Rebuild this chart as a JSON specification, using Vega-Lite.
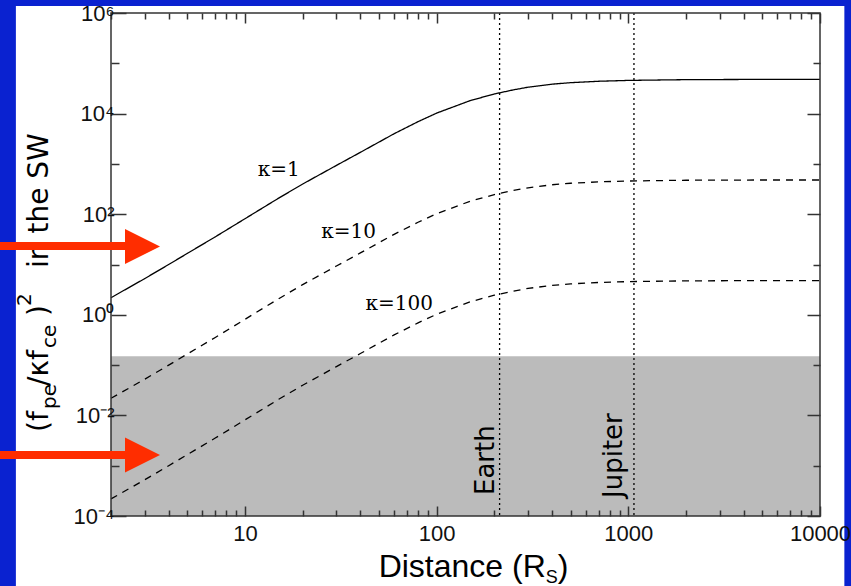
{
  "$schema": "https://vega.github.io/schema/vega-lite/v6.json",
  "width": 709,
  "height": 503,
  "autosize": {"type": "none"},
  "padding": {"left": 111, "top": 13, "right": 31, "bottom": 70},
  "background": "#0a22d0",
  "config": {
    "view": {"stroke": null},
    "axis": {"domain": false, "grid": false, "tickColor": "#333333", "tickWidth": 1.5, "labelFont": "Liberation Sans", "labelFontSize": 22, "labelColor": "#111111", "labelFlush": false, "labelOverlap": false}
  },
  "datasets": {
    "panel": [{"x1": 0.638, "x2": 13400, "y1": 0.0000021, "y2": 1380000}],
    "band": [{"x1": 2, "x2": 10000, "y1": 0.0001, "y2": 0.15}],
    "frame": [{"x1": 2, "x2": 10000, "y1": 0.0001, "y2": 1000000}],
    "curves": [
      {"k": "1", "r": 2, "v": 2.188}, {"k": "1", "r": 3, "v": 5.248}, {"k": "1", "r": 4, "v": 10}, {"k": "1", "r": 5, "v": 16.6}, {"k": "1", "r": 7, "v": 35.48}, {"k": "1", "r": 10, "v": 81.3}, {"k": "1", "r": 15, "v": 208.9}, {"k": "1", "r": 20, "v": 398.1}, {"k": "1", "r": 30, "v": 933.3}, {"k": "1", "r": 40, "v": 1698}, {"k": "1", "r": 60, "v": 3981}, {"k": "1", "r": 80, "v": 6918}, {"k": "1", "r": 100, "v": 10233}, {"k": "1", "r": 150, "v": 18197}, {"k": "1", "r": 200, "v": 24547}, {"k": "1", "r": 250, "v": 29512}, {"k": "1", "r": 300, "v": 33497}, {"k": "1", "r": 400, "v": 38459}, {"k": "1", "r": 500, "v": 41210}, {"k": "1", "r": 700, "v": 43954}, {"k": "1", "r": 1000, "v": 45709}, {"k": "1", "r": 2000, "v": 47315}, {"k": "1", "r": 5000, "v": 47863}, {"k": "1", "r": 10000, "v": 47863},
      {"k": "10", "r": 2, "v": 0.02188}, {"k": "10", "r": 3, "v": 0.05248}, {"k": "10", "r": 4, "v": 0.1}, {"k": "10", "r": 5, "v": 0.166}, {"k": "10", "r": 7, "v": 0.3548}, {"k": "10", "r": 10, "v": 0.813}, {"k": "10", "r": 15, "v": 2.089}, {"k": "10", "r": 20, "v": 3.981}, {"k": "10", "r": 30, "v": 9.333}, {"k": "10", "r": 40, "v": 16.98}, {"k": "10", "r": 60, "v": 39.81}, {"k": "10", "r": 80, "v": 69.18}, {"k": "10", "r": 100, "v": 102.33}, {"k": "10", "r": 150, "v": 181.97}, {"k": "10", "r": 200, "v": 245.47}, {"k": "10", "r": 250, "v": 295.12}, {"k": "10", "r": 300, "v": 334.97}, {"k": "10", "r": 400, "v": 384.59}, {"k": "10", "r": 500, "v": 412.1}, {"k": "10", "r": 700, "v": 439.54}, {"k": "10", "r": 1000, "v": 457.09}, {"k": "10", "r": 2000, "v": 473.15}, {"k": "10", "r": 5000, "v": 478.63}, {"k": "10", "r": 10000, "v": 478.63},
      {"k": "100", "r": 2, "v": 0.0002188}, {"k": "100", "r": 3, "v": 0.0005248}, {"k": "100", "r": 4, "v": 0.001}, {"k": "100", "r": 5, "v": 0.00166}, {"k": "100", "r": 7, "v": 0.003548}, {"k": "100", "r": 10, "v": 0.00813}, {"k": "100", "r": 15, "v": 0.02089}, {"k": "100", "r": 20, "v": 0.03981}, {"k": "100", "r": 30, "v": 0.09333}, {"k": "100", "r": 40, "v": 0.1698}, {"k": "100", "r": 60, "v": 0.3981}, {"k": "100", "r": 80, "v": 0.6918}, {"k": "100", "r": 100, "v": 1.0233}, {"k": "100", "r": 150, "v": 1.8197}, {"k": "100", "r": 200, "v": 2.4547}, {"k": "100", "r": 250, "v": 2.9512}, {"k": "100", "r": 300, "v": 3.3497}, {"k": "100", "r": 400, "v": 3.8459}, {"k": "100", "r": 500, "v": 4.121}, {"k": "100", "r": 700, "v": 4.3954}, {"k": "100", "r": 1000, "v": 4.5709}, {"k": "100", "r": 2000, "v": 4.7315}, {"k": "100", "r": 5000, "v": 4.7863}, {"k": "100", "r": 10000, "v": 4.7863}
    ],
    "planets": [{"name": "Earth", "r": 213}, {"name": "Jupiter", "r": 1070}],
    "planetLabels": [{"name": "Earth", "x": 199, "y": 0.000261}, {"name": "Jupiter", "x": 931, "y": 0.000228}],
    "kappaLabels": [{"t": "κ=1", "x": 15.0, "y": 757}, {"t": "κ=10", "x": 34.7, "y": 44}, {"t": "κ=100", "x": 63.8, "y": 1.64}],
    "ytitleMain": [{"t": "(f", "x": 0.936, "y": 0.00468}, {"t": "/κf", "x": 0.936, "y": 0.03837}, {"t": ")", "x": 0.936, "y": 0.946}, {"t": "in the SW", "x": 0.936, "y": 8.51}],
    "ytitleSub": [{"t": "pe", "x": 0.936, "y": 0.0134}, {"t": "ce", "x": 0.936, "y": 0.2188}],
    "ytitleSup": [{"t": "2", "x": 0.936, "y": 1.496}],
    "xtitleMain": [{"t": "Distance (R", "x": 371, "y": 0.00000612}],
    "xtitleParen": [{"t": ")", "x": 428, "y": 0.00000612}],
    "xtitleSub": [{"t": "S", "x": 371, "y": 0.00000612}],
    "arrows": [{"x1": 0.5, "x2": 2.6, "y": 23.3}, {"x1": 0.5, "x2": 2.6, "y": 0.00163}],
    "heads": [{"x": 2.92, "y": 22.8}, {"x": 2.92, "y": 0.00163}]
  },
  "layer": [
    {
      "data": {"name": "panel"},
      "mark": {"type": "rect", "color": "white"},
      "encoding": {
        "x": {"field": "x1", "type": "quantitative", "scale": {"type": "log", "domain": [2, 10000], "nice": false}, "axis": null},
        "x2": {"field": "x2"},
        "y": {"field": "y1", "type": "quantitative", "scale": {"type": "log", "domain": [0.0001, 1000000], "nice": false}, "axis": null},
        "y2": {"field": "y2"}
      }
    },
    {
      "data": {"name": "band"},
      "mark": {"type": "rect", "color": "#bbbbbb"},
      "encoding": {
        "x": {"field": "x1", "type": "quantitative", "scale": {"type": "log", "domain": [2, 10000], "nice": false},
          "axis": {"orient": "bottom", "zindex": 2, "title": null, "values": [2,3,4,5,6,7,8,9,10,20,30,40,50,60,70,80,90,100,200,300,400,500,600,700,800,900,1000,2000,3000,4000,5000,6000,7000,8000,9000,10000],
            "tickSize": {"condition": {"test": "abs(log(datum.value)/LN10 - round(log(datum.value)/LN10)) < 0.01", "value": -10}, "value": -6},
            "format": "d",
            "labelExpr": "abs(log(datum.value)/LN10 - round(log(datum.value)/LN10)) < 0.01 ? datum.label : ''",
            "labelPadding": 17}},
        "x2": {"field": "x2"},
        "y": {"field": "y1", "type": "quantitative", "scale": {"type": "log", "domain": [0.0001, 1000000], "nice": false},
          "axis": {"orient": "left", "zindex": 2, "title": null, "values": [0.0001,0.001,0.01,0.1,1,10,100,1000,10000,100000,1000000],
            "tickSize": {"condition": {"test": "round(log(datum.value)/LN10) % 2 == 0", "value": -15}, "value": -8},
            "labelExpr": "(round(log(datum.value)/LN10) % 2 != 0) ? '' : ('10' + (round(log(datum.value)/LN10)==-4 ? '⁻⁴' : round(log(datum.value)/LN10)==-2 ? '⁻²' : round(log(datum.value)/LN10)==0 ? '⁰' : round(log(datum.value)/LN10)==2 ? '²' : round(log(datum.value)/LN10)==4 ? '⁴' : '⁶'))",
            "labelPadding": 12}},
        "y2": {"field": "y2"}
      }
    },
    {
      "data": {"name": "curves"},
      "mark": {"type": "line", "color": "black", "strokeWidth": 1.3},
      "encoding": {
        "x": {"field": "r", "type": "quantitative", "scale": {"type": "log", "domain": [2, 10000], "nice": false},
          "axis": {"orient": "top", "zindex": 2, "title": null, "values": [2,3,4,5,6,7,8,9,10,20,30,40,50,60,70,80,90,100,200,300,400,500,600,700,800,900,1000,2000,3000,4000,5000,6000,7000,8000,9000,10000],
            "tickSize": {"condition": {"test": "abs(log(datum.value)/LN10 - round(log(datum.value)/LN10)) < 0.01", "value": -10}, "value": -6},
            "labels": false}},
        "y": {"field": "v", "type": "quantitative", "scale": {"type": "log", "domain": [0.0001, 1000000], "nice": false},
          "axis": {"orient": "right", "zindex": 2, "title": null, "values": [0.0001,0.001,0.01,0.1,1,10,100,1000,10000,100000,1000000],
            "tickSize": {"condition": {"test": "round(log(datum.value)/LN10) % 2 == 0", "value": -13}, "value": -7},
            "labels": false}},
        "strokeDash": {"field": "k", "type": "nominal", "scale": {"domain": ["1", "10", "100"], "range": [[1, 0], [7, 6], [7, 6]]}, "legend": null},
        "detail": {"field": "k"}
      }
    },
    {
      "data": {"name": "planets"},
      "mark": {"type": "rule", "color": "black", "strokeWidth": 1.3, "strokeDash": [2, 3]},
      "encoding": {
        "x": {"field": "r", "type": "quantitative", "scale": {"type": "log", "domain": [2, 10000], "nice": false}, "axis": null}
      }
    },
    {
      "data": {"name": "frame"},
      "mark": {"type": "rect", "filled": false, "color": "#333333", "strokeWidth": 1.5},
      "encoding": {
        "x": {"field": "x1", "type": "quantitative", "scale": {"type": "log", "domain": [2, 10000], "nice": false}, "axis": null},
        "x2": {"field": "x2"},
        "y": {"field": "y1", "type": "quantitative", "scale": {"type": "log", "domain": [0.0001, 1000000], "nice": false}, "axis": null},
        "y2": {"field": "y2"}
      }
    },
    {
      "data": {"name": "planetLabels"},
      "mark": {"type": "text", "angle": 270, "align": "left", "baseline": "alphabetic", "font": "DejaVu Sans", "fontSize": 26, "color": "black"},
      "encoding": {
        "text": {"field": "name"},
        "x": {"field": "x", "type": "quantitative", "scale": {"type": "log", "domain": [2, 10000], "nice": false}, "axis": null},
        "y": {"field": "y", "type": "quantitative", "scale": {"type": "log", "domain": [0.0001, 1000000], "nice": false}, "axis": null}
      }
    },
    {
      "data": {"name": "kappaLabels"},
      "mark": {"type": "text", "align": "center", "baseline": "middle", "font": "DejaVu Serif", "fontSize": 20, "color": "black"},
      "encoding": {
        "text": {"field": "t"},
        "x": {"field": "x", "type": "quantitative", "scale": {"type": "log", "domain": [2, 10000], "nice": false}, "axis": null},
        "y": {"field": "y", "type": "quantitative", "scale": {"type": "log", "domain": [0.0001, 1000000], "nice": false}, "axis": null}
      }
    },
    {
      "data": {"name": "ytitleMain"},
      "mark": {"type": "text", "angle": 270, "align": "left", "baseline": "alphabetic", "font": "DejaVu Sans", "fontSize": 28, "color": "black"},
      "encoding": {
        "text": {"field": "t"},
        "x": {"field": "x", "type": "quantitative", "scale": {"type": "log", "domain": [2, 10000], "nice": false}, "axis": null},
        "y": {"field": "y", "type": "quantitative", "scale": {"type": "log", "domain": [0.0001, 1000000], "nice": false}, "axis": null}
      }
    },
    {
      "data": {"name": "ytitleSub"},
      "mark": {"type": "text", "angle": 270, "align": "left", "baseline": "alphabetic", "dy": 8, "font": "DejaVu Sans", "fontSize": 20, "color": "black"},
      "encoding": {
        "text": {"field": "t"},
        "x": {"field": "x", "type": "quantitative", "scale": {"type": "log", "domain": [2, 10000], "nice": false}, "axis": null},
        "y": {"field": "y", "type": "quantitative", "scale": {"type": "log", "domain": [0.0001, 1000000], "nice": false}, "axis": null}
      }
    },
    {
      "data": {"name": "ytitleSup"},
      "mark": {"type": "text", "angle": 270, "align": "left", "baseline": "alphabetic", "dy": -17, "font": "DejaVu Sans", "fontSize": 20, "color": "black"},
      "encoding": {
        "text": {"field": "t"},
        "x": {"field": "x", "type": "quantitative", "scale": {"type": "log", "domain": [2, 10000], "nice": false}, "axis": null},
        "y": {"field": "y", "type": "quantitative", "scale": {"type": "log", "domain": [0.0001, 1000000], "nice": false}, "axis": null}
      }
    },
    {
      "data": {"name": "xtitleMain"},
      "mark": {"type": "text", "align": "right", "baseline": "alphabetic", "font": "Liberation Sans", "fontSize": 32, "color": "black"},
      "encoding": {
        "text": {"field": "t"},
        "x": {"field": "x", "type": "quantitative", "scale": {"type": "log", "domain": [2, 10000], "nice": false}, "axis": null},
        "y": {"field": "y", "type": "quantitative", "scale": {"type": "log", "domain": [0.0001, 1000000], "nice": false}, "axis": null}
      }
    },
    {
      "data": {"name": "xtitleParen"},
      "mark": {"type": "text", "align": "left", "baseline": "alphabetic", "font": "Liberation Sans", "fontSize": 32, "color": "black"},
      "encoding": {
        "text": {"field": "t"},
        "x": {"field": "x", "type": "quantitative", "scale": {"type": "log", "domain": [2, 10000], "nice": false}, "axis": null},
        "y": {"field": "y", "type": "quantitative", "scale": {"type": "log", "domain": [0.0001, 1000000], "nice": false}, "axis": null}
      }
    },
    {
      "data": {"name": "xtitleSub"},
      "mark": {"type": "text", "align": "left", "baseline": "alphabetic", "dy": 6, "font": "Liberation Sans", "fontSize": 18, "color": "black"},
      "encoding": {
        "text": {"field": "t"},
        "x": {"field": "x", "type": "quantitative", "scale": {"type": "log", "domain": [2, 10000], "nice": false}, "axis": null},
        "y": {"field": "y", "type": "quantitative", "scale": {"type": "log", "domain": [0.0001, 1000000], "nice": false}, "axis": null}
      }
    },
    {
      "data": {"name": "arrows"},
      "mark": {"type": "rule", "color": "#ff2d00", "strokeWidth": 8},
      "encoding": {
        "x": {"field": "x1", "type": "quantitative", "scale": {"type": "log", "domain": [2, 10000], "nice": false}, "axis": null},
        "x2": {"field": "x2"},
        "y": {"field": "y", "type": "quantitative", "scale": {"type": "log", "domain": [0.0001, 1000000], "nice": false}, "axis": null}
      }
    },
    {
      "data": {"name": "heads"},
      "mark": {"type": "point", "shape": "M-1,-1L1,0L-1,1Z", "size": 1225, "filled": true, "color": "#ff2d00", "opacity": 1, "strokeWidth": 0},
      "encoding": {
        "x": {"field": "x", "type": "quantitative", "scale": {"type": "log", "domain": [2, 10000], "nice": false}, "axis": null},
        "y": {"field": "y", "type": "quantitative", "scale": {"type": "log", "domain": [0.0001, 1000000], "nice": false}, "axis": null}
      }
    }
  ],
  "resolve": {"axis": {"x": "independent", "y": "independent"}}
}
